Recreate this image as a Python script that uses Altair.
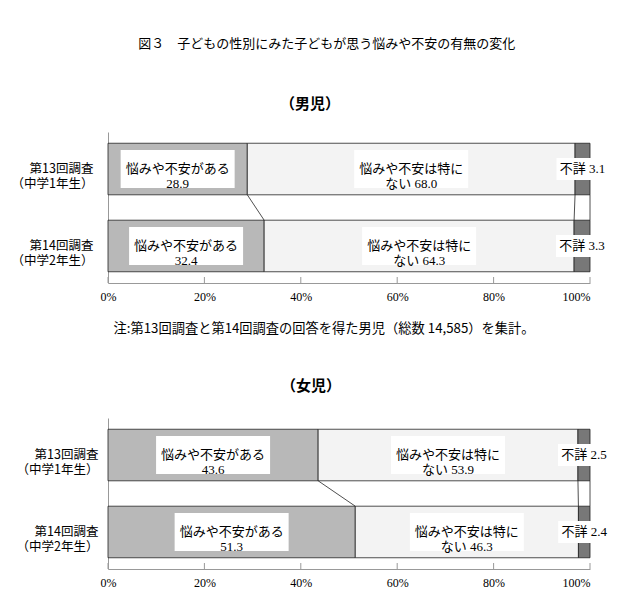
import altair as alt
import pandas as pd

# ---------------- data ----------------
main_title = "図３　子どもの性別にみた子どもが思う悩みや不安の有無の変化"
boys_title = "（男児）"
girls_title = "（女児）"
rows = ["第13回調査\n（中学1年生）", "第14回調査\n（中学2年生）"]
cats = ["悩みや不安がある", "悩みや不安は特にない", "不詳"]
boys_values = [[28.9, 68.0, 3.1], [32.4, 64.3, 3.3]]
girls_values = [[43.6, 53.9, 2.5], [51.3, 46.3, 2.4]]
tick_values = [0, 20, 40, 60, 80, 100]
note_text = "注:第13回調査と第14回調査の回答を得た男児（総数 14,585）を集計。"

# ---------------- style ----------------
colors = ["#b8b8b8", "#f3f3f3", "#787878"]
SANS = "Noto Sans CJK JP"
SERIF = "Liberation Serif, Noto Sans CJK JP"
W, H = 482, 151
P_IN, P_OUT = 0.33, 0.146
STEP = H / (len(rows) - P_IN + 2 * P_OUT)
BAND = STEP * (1 - P_IN)
BOX_BIG = "M-1,-0.333L1,-0.333L1,0.333L-1,0.333Z"
BOX_SMALL = "M-1,-0.42L1,-0.42L1,0.42L-1,0.42Z"


def frame(values):
    recs = []
    for r, vals in zip(rows, values):
        start = 0.0
        for i, (c, v) in enumerate(zip(cats, vals)):
            end = start + v
            if i == 0:
                lab = f"{c}\n{v:.1f}"
            elif i == 1:
                lab = f"悩みや不安は特に\nない {v:.1f}"
            else:
                lab = f"{c} {v:.1f}"
            recs.append(dict(row=r, cat=c, value=v, start=start, end=end,
                             mid=(start + end) / 2, label=lab, idx=i))
            start = end
    return pd.DataFrame(recs)


def connectors(df):
    a = df[df.row == rows[0]].reset_index(drop=True)
    b = df[df.row == rows[1]].reset_index(drop=True)
    return pd.DataFrame({"x1": a.end, "x2": b.end, "r1": rows[0], "r2": rows[1]})


def panel(values, title, dx, lpad, title_offset, note=None):
    df = frame(values)
    xs = alt.Scale(domain=[0, 100], nice=False, zero=True)
    ys = alt.Scale(domain=rows, paddingInner=P_IN, paddingOuter=P_OUT)
    axis_kwargs = dict(
        values=tick_values, labelExpr="datum.value + '%'", ticks=False, tickSize=0,
        grid=False, domainColor="#999", labelFont=SERIF, labelFontSize=12,
        labelColor="#000", labelPadding=8,
        labelAlign=alt.condition("datum.value == 100", alt.value("right"), alt.value("center")),
    )
    if note:
        axis_kwargs.update(title=note, titleFont=SANS, titleFontSize=13.25, titleFontWeight="normal",
                           titleColor="#000", titleAlign="left", titleBaseline="middle",
                           titleX=5, titleY=45)
    else:
        axis_kwargs.update(title=None)
    x_axis = alt.Axis(**axis_kwargs)
    y_axis = alt.Axis(title=None, labelExpr="split(datum.label, '\\n')", ticks=False,
                      domainColor="#999", labelFont=SANS, labelFontSize=12.5, labelColor="#000",
                      labelPadding=lpad, labelLineHeight=15)

    base = alt.Chart(df)
    bars = base.mark_bar(stroke="#222", strokeWidth=0.8).encode(
        x=alt.X("start:Q", scale=xs, axis=x_axis),
        x2="end:Q",
        y=alt.Y("row:N", scale=ys, axis=y_axis, sort=rows),
        color=alt.Color("cat:N", scale=alt.Scale(domain=cats, range=colors), legend=None),
    )
    big_box = base.transform_filter("datum.idx < 2").mark_point(
        shape=BOX_BIG, size=114 ** 2, filled=True, color="white", opacity=1, strokeWidth=0
    ).encode(x="mid:Q", y="row:N")
    small_box = base.transform_filter("datum.idx == 2").mark_point(
        shape=BOX_SMALL, size=52 ** 2, filled=True, color="white", opacity=1, strokeWidth=0
    ).encode(x="mid:Q", y="row:N")
    labels = base.mark_text(font=SERIF, fontSize=13, lineBreak="\n", lineHeight=15,
                            color="#000").encode(x="mid:Q", y="row:N", text="label:N")
    conn = alt.Chart(connectors(df)).mark_rule(
        color="#222", strokeWidth=0.8, yOffset=BAND / 2, y2Offset=-BAND / 2
    ).encode(x="x1:Q", x2="x2:Q", y="r1:N", y2="r2:N")
    tks = alt.Chart(pd.DataFrame({"t": tick_values})).mark_rule(color="#999").encode(
        x="t:Q", y=alt.value(H), y2=alt.value(H - 6))

    return alt.layer(bars, big_box, small_box, labels, conn, tks).properties(
        width=W, height=H,
        title=alt.Title(title, font=SANS, fontSize=15, fontWeight="bold", color="#000",
                        frame="group", anchor="middle", dx=dx, offset=title_offset),
    )


top = panel(boys_values, boys_title, -39, 15, 20, note=note_text)
bottom = panel(girls_values, girls_title, -38, 10, 24)

chart = alt.concat(top, bottom, columns=1, spacing=44).properties(
    title=alt.Title(main_title, font=SANS, fontSize=13, fontWeight="normal", color="#000",
                    anchor="middle", dx=16, offset=46),
    padding={"left": 3, "top": 30, "right": 5, "bottom": 5},
).configure_view(stroke=None)

chart.save("out.html", embed_options={"renderer": "svg", "actions": False})
